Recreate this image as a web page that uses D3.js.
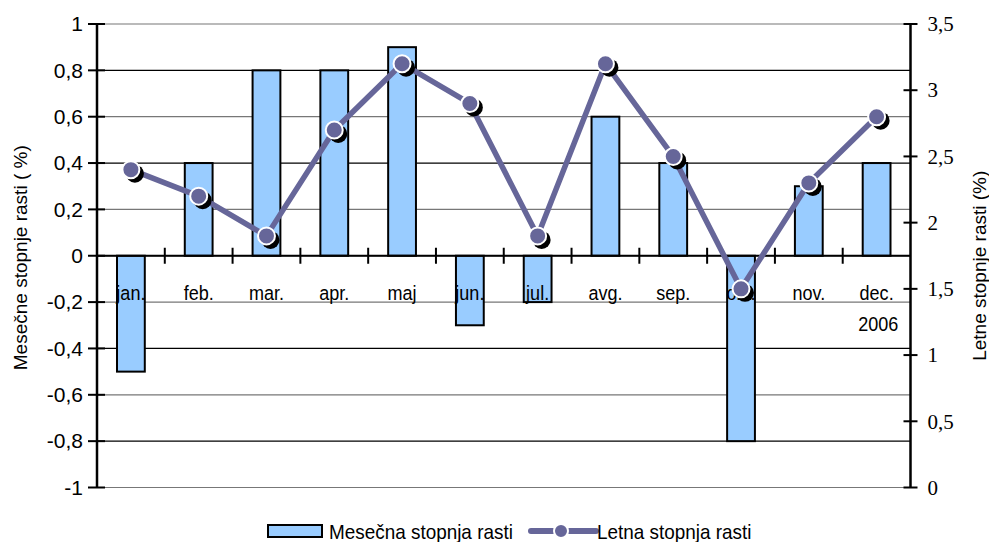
<!DOCTYPE html>
<html><head><meta charset="utf-8">
<script src="https://cdn.jsdelivr.net/npm/d3@7"></script>
<style>body{margin:0;background:#fff}svg{display:block}</style>
</head><body>
<svg id="c" width="989" height="542"></svg>
<script>
const categories = ["jan.","feb.","mar.","apr.","maj","jun.","jul.","avg.","sep.","okt.","nov.","dec."];
const monthly = [-0.5,0.4,0.8,0.8,0.9,-0.3,-0.2,0.6,0.4,-0.8,0.3,0.4];
const annual = [2.4,2.2,1.9,2.7,3.2,2.9,1.9,3.2,2.5,1.5,2.3,2.8];
const leftTicks = [-1,-0.8,-0.6,-0.4,-0.2,0,0.2,0.4,0.6,0.8,1];
const rightTicks = [0,0.5,1,1.5,2,2.5,3,3.5];
const yearLabel = "2006";
const seriesNames = ["Mesečna stopnja rasti","Letna stopnja rasti"];
const leftTitle = "Mesečne stopnje rasti ( %)";
const rightTitle = "Letne stopnje rasti (%)";

const L=97, R=910.5, T=24, B=487.5;
const fmt = v => String(+v.toFixed(1)).replace(".",",");
const svg = d3.select("#c");
const x = d3.scaleBand().domain(categories).range([L,R]).paddingInner(0).paddingOuter(0);
const yL = d3.scaleLinear().domain([-1,1]).range([B,T]);
const yR = d3.scaleLinear().domain([0,3.5]).range([B,T]);
const lineColor="#666699", barColor="#99CCFF";
const sans="Liberation Sans, Arial, sans-serif";

// gridlines
svg.append("g").selectAll("line").data(leftTicks).join("line")
  .attr("x1",L).attr("x2",R).attr("y1",d=>yL(d)).attr("y2",d=>yL(d))
  .attr("stroke",(d,i)=>i%2? "#000":"#777").attr("stroke-width",1.2);

// bars
const bw = x.bandwidth()*0.41;
svg.append("g").selectAll("rect").data(monthly).join("rect")
  .attr("x",(d,i)=>x(categories[i])+x.bandwidth()/2-bw/2)
  .attr("width",bw)
  .attr("y",d=>yL(Math.max(0,d)))
  .attr("height",d=>Math.abs(yL(d)-yL(0)))
  .attr("fill",barColor).attr("stroke","#000").attr("stroke-width",2);

// zero axis with category ticks
svg.append("line").attr("x1",L).attr("x2",R).attr("y1",yL(0)).attr("y2",yL(0)).attr("stroke","#000").attr("stroke-width",2);
svg.append("g").selectAll("line").data(categories.slice(1)).join("line")
  .attr("x1",d=>x(d)).attr("x2",d=>x(d)).attr("y1",yL(0)-8).attr("y2",yL(0)+8)
  .attr("stroke","#000").attr("stroke-width",2);

// category labels
svg.append("g").selectAll("text").data(categories).join("text")
  .attr("transform",d=>`translate(${x(d)+x.bandwidth()/2},${yL(0)+44}) scale(0.95,1.08)`)
  .attr("text-anchor","middle").attr("font-family",sans)
  .attr("font-size",19).attr("fill","#000").text(d=>d);
svg.append("text").attr("transform",`translate(${x("dec.")+x.bandwidth()*0.82},${yL(0)+75}) scale(0.95,1.08)`)
  .attr("text-anchor","end").attr("font-family",sans)
  .attr("font-size",19).text(yearLabel);

// left axis
const gl = svg.append("g").attr("transform",`translate(${L},0)`)
  .call(d3.axisLeft(yL).tickValues(leftTicks).tickFormat(fmt).tickSize(0).tickPadding(14));
gl.select(".domain").remove();
gl.selectAll("text").attr("font-family",sans).attr("font-size",21).attr("fill","#000");
svg.append("line").attr("x1",L).attr("x2",L).attr("y1",T).attr("y2",B).attr("stroke","#000").attr("stroke-width",2.5);
svg.append("g").selectAll("line").data(leftTicks).join("line")
  .attr("x1",L-9).attr("x2",L+8).attr("y1",d=>yL(d)).attr("y2",d=>yL(d)).attr("stroke","#000").attr("stroke-width",2);

// right axis
const gr = svg.append("g").attr("transform",`translate(${R},0)`)
  .call(d3.axisRight(yR).tickValues(rightTicks).tickFormat(fmt).tickSize(0).tickPadding(17));
gr.select(".domain").remove();
gr.selectAll("text").attr("font-family","Liberation Serif, Times New Roman, serif").attr("font-size",21).attr("fill","#000");
svg.append("line").attr("x1",R).attr("x2",R).attr("y1",T).attr("y2",B).attr("stroke","#000").attr("stroke-width",2.5);
svg.append("g").selectAll("line").data(rightTicks).join("line")
  .attr("x1",R-7).attr("x2",R+7).attr("y1",d=>yR(d)).attr("y2",d=>yR(d)).attr("stroke","#000").attr("stroke-width",2);

// axis titles
svg.append("text").attr("transform",`translate(27,${(T+B)/2+2}) rotate(-90)`)
  .attr("text-anchor","middle").attr("font-family",sans).attr("font-size",19).text(leftTitle);
svg.append("text").attr("transform",`translate(986,${(T+B)/2+10}) rotate(-90)`)
  .attr("text-anchor","middle").attr("font-family",sans).attr("font-size",19).text(rightTitle);

// line
const cx = (d,i)=>x(categories[i])+x.bandwidth()/2;
svg.append("path").datum(annual)
  .attr("d",d3.line().x(cx).y(d=>yR(d)))
  .attr("fill","none").attr("stroke",lineColor).attr("stroke-width",5.5).attr("stroke-linejoin","round");
svg.append("g").selectAll("circle").data(annual).join("circle")
  .attr("cx",(d,i)=>cx(d,i)+4).attr("cy",d=>yR(d)+4).attr("r",9).attr("fill","#000");
svg.append("g").selectAll("circle").data(annual).join("circle")
  .attr("cx",cx).attr("cy",d=>yR(d)).attr("r",8.5).attr("fill",lineColor).attr("stroke","#fff").attr("stroke-width",2);

// legend
const ly=531;
svg.append("rect").attr("x",268).attr("y",ly-6).attr("width",54).attr("height",12)
  .attr("fill",barColor).attr("stroke","#000").attr("stroke-width",2);
svg.append("text").attr("transform",`translate(329,${ly+8}) scale(0.97,1.08)`).attr("font-family",sans).attr("font-size",19.5).text(seriesNames[0]);
svg.append("line").attr("x1",531).attr("x2",596).attr("y1",ly).attr("y2",ly).attr("stroke",lineColor).attr("stroke-width",6).attr("stroke-linecap","round");
svg.append("circle").attr("cx",561).attr("cy",ly).attr("r",7).attr("fill",lineColor).attr("stroke","#fff").attr("stroke-width",2);
svg.append("text").attr("transform",`translate(597,${ly+8}) scale(0.97,1.08)`).attr("font-family",sans).attr("font-size",19.5).text(seriesNames[1]);
</script>
</body></html>
